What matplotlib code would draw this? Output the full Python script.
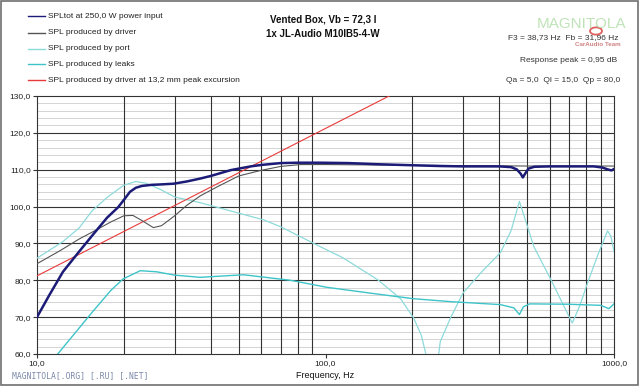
import matplotlib
matplotlib.use("Agg")
import matplotlib.pyplot as plt
from matplotlib.ticker import FixedLocator
from matplotlib.patches import Rectangle, Circle

plt.rcParams['font.family'] = ['Liberation Sans', 'DejaVu Sans']

# --- data ---
f_tot = [10, 11, 12.3, 14, 15.6, 17.5, 19.1, 20, 21, 22, 23.1, 25, 26.7, 29.7, 33,
         36.8, 40, 47, 55, 60, 70, 80, 96, 120, 150, 202, 250, 300, 400, 440, 460,
         475, 483, 490, 505, 530, 600, 700, 850, 910, 950, 980, 1000]
spl_tot = [70, 75.8, 82.3, 87.8, 92.3, 97.0, 99.8, 101.8, 104.0, 105.1, 105.6, 105.9,
           106.0, 106.2, 106.8, 107.6, 108.3, 109.9, 110.9, 111.3, 111.8, 111.9,
           111.9, 111.8, 111.5, 111.2, 111.0, 110.9, 110.9, 110.7, 110.1, 108.9, 107.9,
           108.7, 110.3, 110.8, 110.9, 110.9, 110.9, 110.6, 110.1, 109.8, 110.2]

f_drv = [10, 12, 14, 16, 18, 20, 21.5, 23, 25.3, 27, 30, 33, 36.8, 42, 50, 59.6, 70,
         82, 100, 200, 500, 1000]
spl_drv = [84.5, 88.0, 91.2, 93.6, 95.8, 97.5, 97.6, 96.3, 94.3, 94.8, 97.5, 100.3,
           102.9, 105.3, 108.3, 109.8, 110.9, 111.4, 111.4, 111.2, 111.0, 111.0]

f_port = [10, 12.3, 14, 15.5, 17.5, 20, 22, 24, 27, 30, 37, 48, 61, 70, 82, 96, 115,
          152, 182, 202, 215, 226, 235, 245, 250, 272, 300, 350, 404, 440, 470, 490,
          527, 605, 680, 717, 760, 810, 880, 950, 975, 1000]
spl_port = [86.0, 90.5, 94.2, 98.8, 102.5, 105.8, 106.8, 106.3, 104.5, 102.6, 101.0,
            98.6, 96.4, 94.5, 91.8, 89.1, 86.1, 80.1, 75.0, 69.8, 65.0, 58.0, 50.0,
            58.0, 63.4, 70.0, 76.6, 82.5, 87.5, 93.5, 101.4, 97.0, 89.2, 80.1, 72.0,
            68.4, 73.0, 79.3, 87.0, 93.4, 92.0, 87.8]

f_leak = [10, 11.8, 13, 15.6, 18, 19.9, 22.8, 26, 30, 36.8, 52, 75.6, 101, 150, 202,
          272, 404, 450, 470, 485, 510, 700, 900, 960, 1000]
spl_leak = [55.0, 60.0, 64.0, 71.5, 77.2, 80.4, 82.6, 82.3, 81.4, 80.8, 81.5, 80.0,
            78.1, 76.3, 75.0, 74.2, 73.4, 72.5, 70.7, 72.8, 73.6, 73.5, 73.2, 72.3, 73.6]

f_xmax = [10, 100, 170]
spl_xmax = [81.2, 121.2, 130.4]

labels = ["SPLtot at 250,0 W power input",
          "SPL produced by driver",
          "SPL produced by port",
          "SPL produced by leaks",
          "SPL produced by driver at 13,2 mm peak excursion"]
colors = ["#1c1c78", "#555555", "#8ddada", "#3ec4c8", "#e83a3a"]

W, H = 640, 386
fig = plt.figure(figsize=(W / 100, H / 100), dpi=100)
fig.patch.set_facecolor("white")
fig.patches.append(Rectangle((0.002, 0.003), 0.995, 0.994, transform=fig.transFigure,
                             fill=False, edgecolor="#707070", lw=1.2))

def px(x, y):
    return x / W, 1 - y / H

x0, y0 = px(37, 354)
x1, y1 = px(614, 96)
ax = fig.add_axes([x0, y0, x1 - x0, y1 - y0])
ax.set_xscale("log")
ax.set_xlim(10, 1000)
ax.set_ylim(60, 130)

# grid
for yv in range(62, 130, 2):
    if yv % 10:
        ax.axhline(yv, color="#d4d4d4", lw=0.7, zorder=0)
for yv in range(70, 130, 10):
    ax.axhline(yv, color="#333333", lw=0.8, zorder=0)
for dec in (10, 100):
    for m in range(2, 10):
        ax.axvline(dec * m, color="#333333", lw=0.8, zorder=0)

ax.xaxis.set_major_locator(FixedLocator([10, 100, 1000]))
ax.xaxis.set_minor_locator(FixedLocator([]))
ax.set_xticklabels(["10,0", "100,0", "1000,0"])
ax.set_yticks(range(60, 131, 10))
ax.set_yticklabels([f"{v},0" for v in range(60, 131, 10)])
ax.tick_params(axis="both", labelsize=6, length=3, width=0.8, color="#333333",
               pad=1.5, labelcolor="#222222")
for s in ax.spines.values():
    s.set_color("#333333")
    s.set_linewidth(0.8)

ax.plot(f_port, spl_port, color=colors[2], lw=0.9, zorder=3)
ax.plot(f_leak, spl_leak, color=colors[3], lw=1.0, zorder=3)
ax.plot(f_xmax, spl_xmax, color=colors[4], lw=0.8, zorder=3)
ax.plot(f_drv, spl_drv, color=colors[1], lw=0.8, zorder=4)
ax.plot(f_tot, spl_tot, color=colors[0], lw=1.8, zorder=5)

ax.text(0.5, -0.065, "Frequency, Hz", transform=ax.transAxes, ha="center", va="top",
        fontsize=6.5, color="#111111")

# legend
for i, (lab, c) in enumerate(zip(labels, colors)):
    yy = [16, 33, 49, 64, 80][i]
    xa, ya = px(28, yy)
    xb, _ = px(45, yy)
    fig.add_artist(plt.Line2D([xa, xb], [ya, ya], color=c, lw=1.0,
                              transform=fig.transFigure))
    fig.text(*px(48, yy), lab, fontsize=6, va="center", ha="left", color="#222222")

# titles
fig.text(*px(323, 19), "Vented Box, Vb = 72,3 l", fontsize=7, fontweight="bold",
         ha="center", va="center", color="#111111")
fig.text(*px(323, 34), "1x JL-Audio M10IB5-4-W", fontsize=7, fontweight="bold",
         ha="center", va="center", color="#111111")

# logo
fig.text(*px(582, 24), "MAGNITOLA", fontsize=11, ha="center", va="center",
         color="#b8e0b0", fontstretch="condensed", alpha=0.9)
fig.patches.append(Circle(px(596, 31), 6 / W, transform=fig.transFigure, fill=False,
                          edgecolor="#e06060", lw=1.3))
fig.text(*px(598, 45), "CarAudio Team", fontsize=4.5, ha="center", va="center",
         color="#d08080", fontweight="bold")

# right info text
fig.text(*px(619, 38), "F3 = 38,73 Hz  Fb = 31,96 Hz", fontsize=6, ha="right",
         va="center", color="#333333")
fig.text(*px(617, 61), "Response peak = 0,95 dB", fontsize=6, ha="right",
         va="center", color="#333333")
fig.text(*px(620, 80), "Qa = 5,0  Ql = 15,0  Qp = 80,0", fontsize=6, ha="right",
         va="center", color="#333333")

fig.text(*px(12, 376), "MAGNITOLA[.ORG] [.RU] [.NET]", fontsize=5.8, ha="left",
         va="center", color="#7a88a8", family="DejaVu Sans Mono")

fig.savefig("out.png", dpi=100)
